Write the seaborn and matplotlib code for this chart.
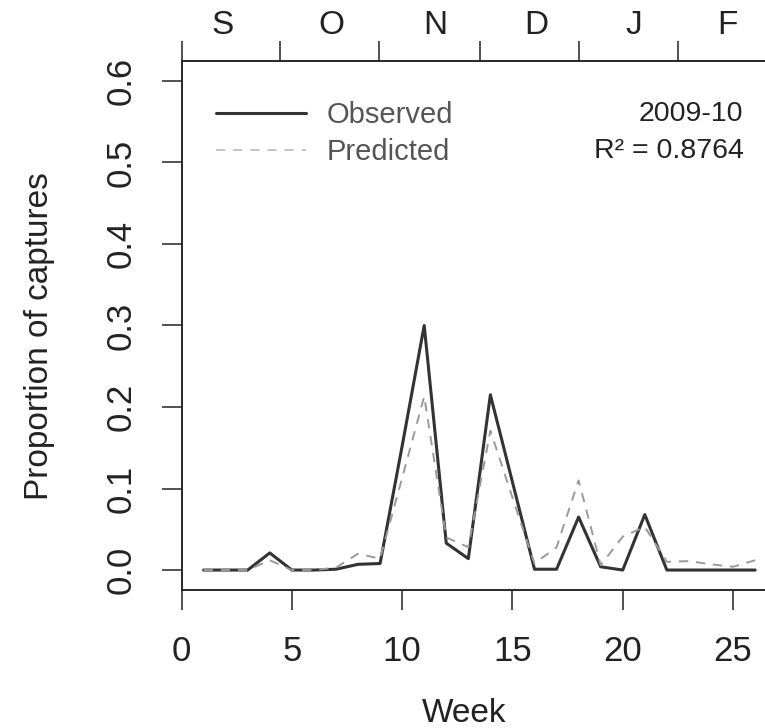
import matplotlib
matplotlib.use('Agg')
import matplotlib.pyplot as plt
from matplotlib.lines import Line2D
import numpy as np
import pandas as pd
import seaborn as sns

# ─────────────────────────────────────────────
# DATA
# ─────────────────────────────────────────────
weeks = list(range(1, 27))
observed = [0.000, 0.000, 0.000, 0.021, 0.000, 0.000, 0.001, 0.007, 0.008, 0.152,
            0.300, 0.033, 0.014, 0.215, 0.108, 0.001, 0.001, 0.065, 0.004, 0.000,
            0.068, 0.000, 0.000, 0.000, 0.000, 0.000]
predicted = [0.000, 0.000, 0.000, 0.012, 0.000, 0.000, 0.003, 0.020, 0.014, 0.113,
             0.213, 0.040, 0.028, 0.171, 0.089, 0.008, 0.028, 0.110, 0.006, 0.041,
             0.053, 0.010, 0.011, 0.007, 0.004, 0.012]

y_ticks = [0.0, 0.1, 0.2, 0.3, 0.4, 0.5, 0.6]
y_tick_labels = ['0.0', '0.1', '0.2', '0.3', '0.4', '0.5', '0.6']
x_ticks = [0, 5, 10, 15, 20, 25]

month_bounds = [0.0, 4.46, 8.96, 13.53, 18.03, 22.52]
month_mids = [1.86, 6.77, 11.49, 16.07, 20.48, 24.76]
month_labels = ['S', 'O', 'N', 'D', 'J', 'F']

season_label = '2009-10'
r2_label = 'R\u00b2 = 0.8764'

df = pd.DataFrame({'week': weeks, 'observed': observed, 'predicted': predicted})

# ─────────────────────────────────────────────
# STYLE
# ─────────────────────────────────────────────
sns.set_style('ticks')
plt.rcParams['font.family'] = ['Liberation Sans', 'DejaVu Sans']
plt.rcParams['axes.linewidth'] = 1.1
plt.rcParams['axes.edgecolor'] = '#222222'

OBS_COLOR = '#333333'
PRED_COLOR = '#9a9a9a'
DASHES = (4.8, 4.0)

fig = plt.figure(figsize=(7.65, 7.28), dpi=100)
ax = fig.add_axes([0.2373, 0.1901, 0.7786, 0.7256])

sns.lineplot(data=df, x='week', y='observed', ax=ax, color=OBS_COLOR, lw=2.2)
sns.lineplot(data=df, x='week', y='predicted', ax=ax, color=PRED_COLOR, lw=1.4)
ax.lines[-1].set_dashes(DASHES)

ax.set_xlim(0, 27)
ax.set_ylim(-0.024, 0.624)
for s in ax.spines.values():
    s.set_visible(True)
    s.set_linewidth(1.1)

ax.set_xticks(x_ticks)
ax.set_xticklabels([str(t) for t in x_ticks])
ax.set_yticks(y_ticks)
ax.set_yticklabels(y_tick_labels, rotation=90, va='center')
ax.tick_params(axis='both', length=14.5, width=1.1, labelsize=25,
               color='#222222', labelcolor='#222222')
ax.tick_params(axis='x', pad=18)
ax.tick_params(axis='y', pad=17)

ax.set_xlabel('Week', fontsize=24, color='#222222')
ax.set_ylabel('Proportion of captures', fontsize=24, color='#222222')
ax.xaxis.set_label_coords(0.475, -0.205)
ax.yaxis.set_label_coords(-0.212, 0.48)

# top month axis
ax2 = ax.twiny()
ax2.set_xlim(ax.get_xlim())
ax2.set_xticks(month_bounds)
ax2.set_xticklabels([])
ax2.set_xticks(month_mids, minor=True)
ax2.set_xticklabels(month_labels, minor=True)
ax2.tick_params(axis='x', which='major', length=14.5, width=1.1, color='#222222')
ax2.tick_params(axis='x', which='minor', length=0, pad=15, labelsize=24,
                labelcolor='#222222')
ax2.spines['top'].set_linewidth(1.1)

# legend
handles = [Line2D([], [], color=OBS_COLOR, lw=2.2),
           Line2D([], [], color='#c4c4c4', lw=1.4, dashes=DASHES)]
leg = ax.legend(handles, ['Observed', 'Predicted'], loc='upper left',
                bbox_to_anchor=(0.058, 0.925), frameon=False, fontsize=21,
                handlelength=3.1, handletextpad=0.7, labelspacing=0.32,
                borderpad=0, borderaxespad=0)
for t in leg.get_texts():
    t.set_color('#555555')

ax.text(25.47, 0.560, season_label, ha='right', va='center', fontsize=20.5,
        color='#222222')
ax.text(25.47, 0.514, r2_label, ha='right', va='center', fontsize=20.5,
        color='#222222')

fig.savefig('out.png', dpi=100)
plt.close(fig)
